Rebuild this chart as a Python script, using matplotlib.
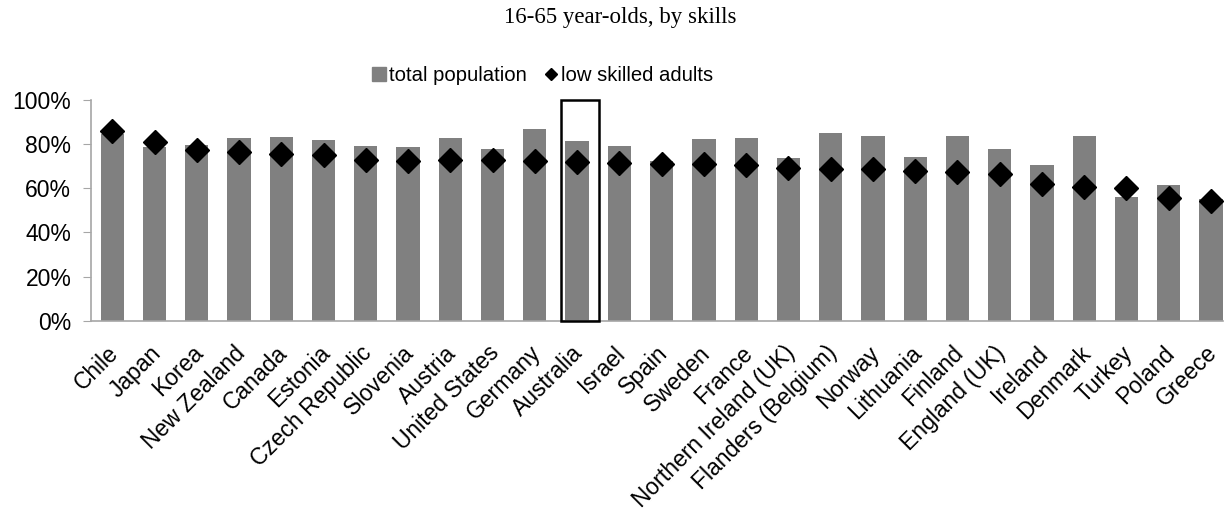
import numpy as np
import matplotlib.pyplot as plt
from matplotlib.lines import Line2D
from matplotlib.patches import Rectangle
from matplotlib.ticker import PercentFormatter

# ── data ─────────────────────────────────────────────
countries = [
    "Chile", "Japan", "Korea", "New Zealand", "Canada", "Estonia",
    "Czech Republic", "Slovenia", "Austria", "United States", "Germany",
    "Australia", "Israel", "Spain", "Sweden", "France",
    "Northern Ireland (UK)", "Flanders (Belgium)", "Norway", "Lithuania",
    "Finland", "England (UK)", "Ireland", "Denmark", "Turkey", "Poland", "Greece",
]
total_population = [
    84.7, 78.7, 79.7, 83.0, 83.2, 82.0, 79.1, 78.8, 82.7, 78.0, 87.1,
    81.4, 79.1, 72.3, 82.3, 82.7, 73.7, 85.2, 83.8, 74.4, 83.7, 78.0,
    70.5, 83.8, 56.1, 61.6, 55.1,
]
low_skilled = [
    86.2, 80.9, 77.3, 76.4, 75.6, 75.0, 72.8, 72.3, 72.8, 72.7, 72.5,
    72.0, 71.5, 71.1, 71.0, 70.8, 69.1, 68.8, 68.8, 67.8, 67.5, 66.7,
    62.2, 60.8, 60.4, 55.5, 54.2,
]
highlight = "Australia"

plt.rcParams['font.family'] = ['Liberation Sans', 'DejaVu Sans']

fig = plt.figure(figsize=(12.31, 5.13), dpi=100)
ax = fig.add_axes([0.0737, 0.375, 0.92, 0.4295])

x = np.arange(len(countries))
ax.bar(x, total_population, width=0.55, color='#808080', zorder=2)
ax.plot(x, low_skilled, ls='none', marker='D', ms=12, color='black', zorder=3)

# box round the highlighted country
hi = countries.index(highlight)
ax.add_patch(Rectangle((hi - 0.39, 0), 0.91, 100, fill=False,
                       ec='black', lw=1.8, zorder=4, clip_on=False))

ax.set_xlim(-0.51, len(countries) - 0.71)
ax.set_ylim(0, 100)
ax.set_yticks(np.arange(0, 101, 20))
ax.yaxis.set_major_formatter(PercentFormatter(decimals=0))
ax.set_xticks(x)
ax.set_xticklabels([])

# slanted category labels, placed a bit left/below the tick like the original
for xi, name in zip(x, countries):
    ax.annotate(name, xy=(xi, 0), xycoords=('data', 'axes fraction'),
                xytext=(-4, -15), textcoords='offset points',
                rotation=45, ha='right', va='top', rotation_mode='anchor',
                fontsize=16.5, annotation_clip=False)

for side in ['top', 'right']:
    ax.spines[side].set_visible(False)
for side in ['left', 'bottom']:
    ax.spines[side].set_color('#a6a6a6')
    ax.spines[side].set_linewidth(1.2)
ax.tick_params(axis='y', labelsize=16.5, length=6, color='#a6a6a6', pad=8)
ax.tick_params(axis='x', length=0)

handles = [
    Line2D([], [], ls='none', marker='s', ms=9.5, color='#808080'),
    Line2D([], [], ls='none', marker='D', ms=6, color='black'),
]
fig.legend(handles, ["total population", "low skilled adults"],
           loc='center', bbox_to_anchor=(0.441, 0.852), ncol=2, frameon=False,
           fontsize=14.6, handlelength=0.6, handletextpad=0.2, columnspacing=0.9)

fig.text(0.504, 0.966, "16-65 year-olds, by skills", ha='center', va='center',
         fontsize=16.5, family=['Liberation Serif', 'DejaVu Serif'])

plt.savefig("out.png", dpi=100)
plt.close()
